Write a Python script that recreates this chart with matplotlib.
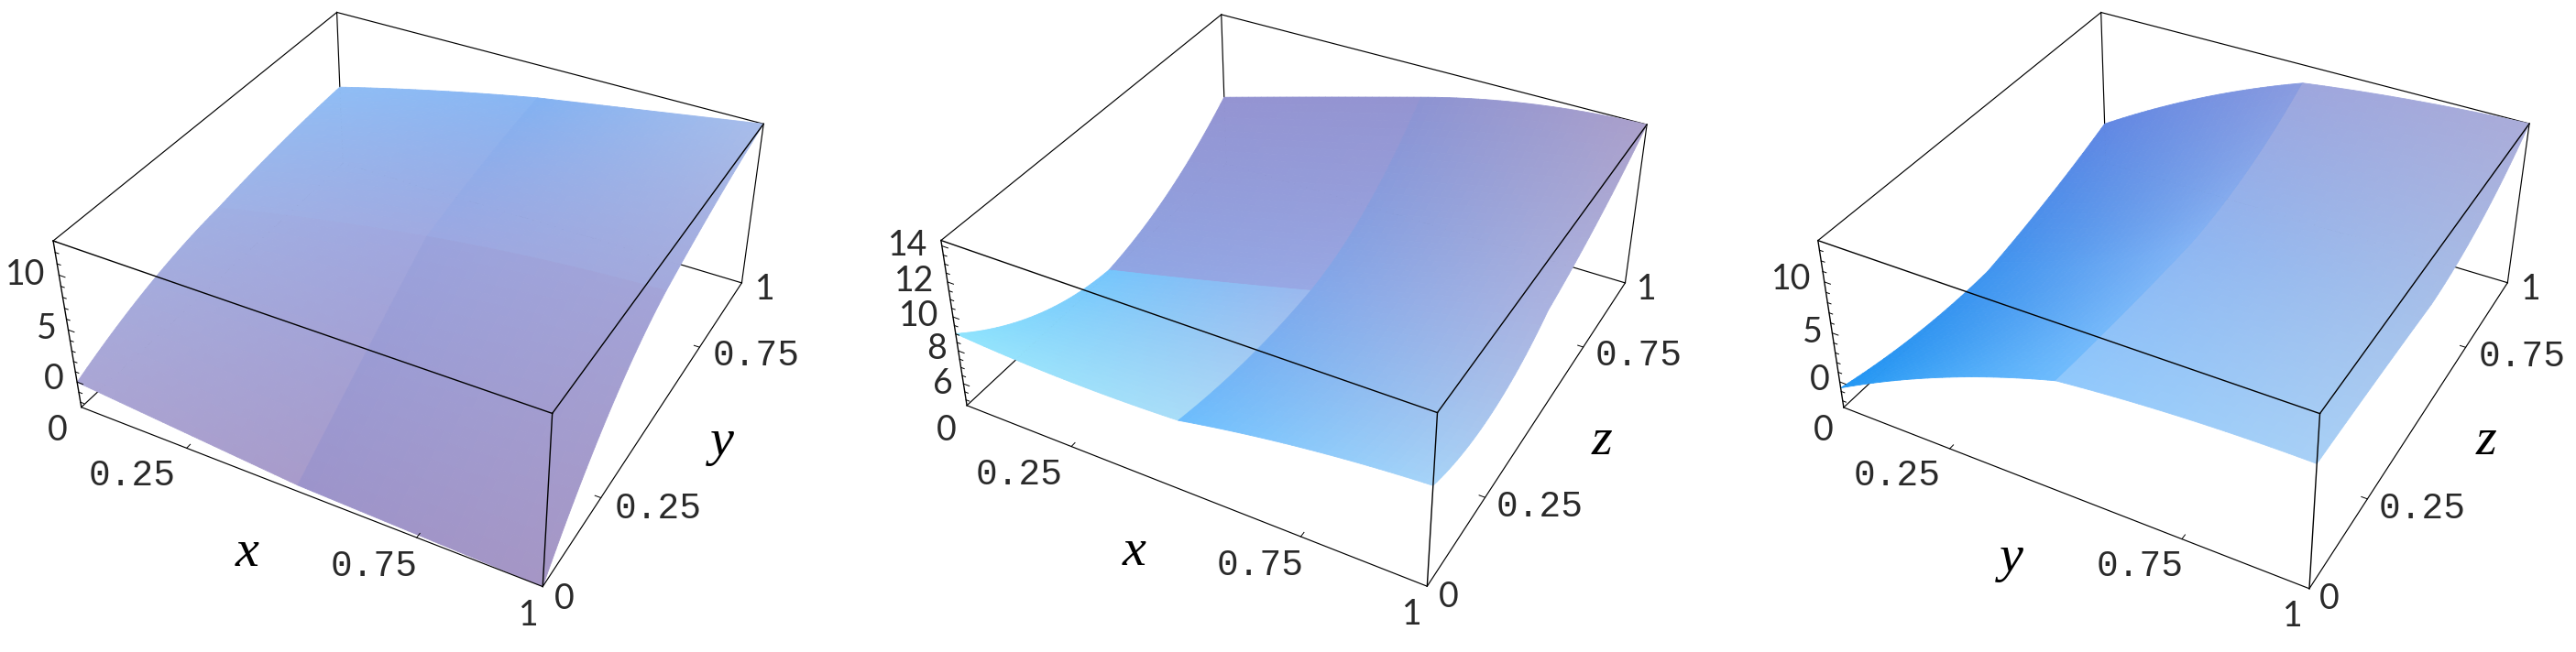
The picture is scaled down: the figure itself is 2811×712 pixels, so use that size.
import numpy as np
import matplotlib
matplotlib.use('Agg')
import matplotlib.pyplot as plt
from mpl_toolkits.mplot3d import Axes3D

W, H = 2811, 712

# grid the heights were read on
grid = [0, 0.25, 0.5, 0.75, 1]

# heights, one row per second-axis value
z1 = [[-0.02, -0.95, -1.88, -2.19, -2.50],
      [2.77, 2.93, 3.08, 3.70, 5.25],
      [4.17, 6.18, 7.81, 8.97, 9.59],
      [5.10, 7.58, 9.13, 10.52, 11.60],
      [5.56, 7.89, 9.90, 11.45, 13.00]]
z2 = [[9.02, 8.70, 8.80, 9.86, 10.44],
      [6.05, 6.87, 7.93, 8.99, 9.67],
      [4.84, 6.29, 7.83, 9.48, 11.07],
      [6.25, 7.64, 9.19, 10.73, 12.37],
      [9.09, 10.79, 12.47, 13.77, 14.30]]
z3 = [[-0.63, 4.60, 8.42, 9.25, 9.42],
      [-2.20, 2.28, 7.84, 8.59, 9.25],
      [-2.53, 1.78, 7.59, 8.26, 8.92],
      [-0.71, 3.11, 8.92, 9.75, 10.33],
      [1.78, 7.59, 12.07, 13.24, 13.90]]
zlims = [(-2.5, 13.0), (4.65, 14.3), (-2.7, 13.9)]

horizontal_ticks = [0.25, 0.75]
z_major = [[0, 5, 10], [6, 8, 10, 12, 14], [0, 5, 10]]
z_minor = [[-2, -1, 1, 2, 3, 4, 6, 7, 8, 9, 11, 12, 13],
           [5, 5.5, 6.5, 7, 7.5, 8.5, 9, 9.5, 10.5, 11, 11.5, 12.5, 13, 13.5],
           [-2, -1, 1, 2, 3, 4, 6, 7, 8, 9, 11, 12, 13]]

# colours at the patch corners: 4x4, rows run along y and the middle two
# rows/columns are the two sides of the crease at 0.5
colors1 = [['#aaa6d5', '#a89bca', '#9c94cb', '#a596c5'],
           ['#9fb0e4', '#a0a7df', '#9aa3dd', '#a3a4d8'],
           ['#9fb2e6', '#a0aae1', '#9ba8e2', '#a3a9dc'],
           ['#8fbdf5', '#88b6f3', '#82b2f2', '#a8bdea']]
colors2 = [['#8fe4fd', '#a9ddf8', '#6cbdfd', '#a7d4f8'],
           ['#75c5fc', '#9bb8ee', '#82a8ea', '#abb3e0'],
           ['#8fa5e3', '#98a8e4', '#82a8ea', '#abb3e0'],
           ['#9494d2', '#9494d1', '#8d93d2', '#aaa0cb']]
colors3 = [['#2196f3', '#6fbcfd', '#8fc8fc', '#a8d0f6'],
           ['#3f94ef', '#82b2f4', '#8fb6f1', '#a6bfe9'],
           ['#3f94ef', '#82b2f4', '#8fb6f1', '#a6bfe9'],
           ['#6187e3', '#8a9bdf', '#9ea6dd', '#aaacd9']]

# box corners on the page, in pixels
corners1 = {(0, 0, 0): (88.7, 445.0), (1, 0, 0): (592.3, 640.3), (1, 1, 0): (809.4, 308.8),
            (0, 0, 1): (58.2, 262.5), (1, 0, 1): (602.5, 451.9), (1, 1, 1): (833.3, 135.3),
            (0, 1, 1): (367.5, 13.6)}
corners2 = {(0, 0, 0): (1055.1, 442.8), (1, 0, 0): (1557.5, 640.3), (1, 1, 0): (1773.3, 308.8),
            (0, 0, 1): (1026.9, 262.5), (1, 0, 1): (1568.3, 450.5), (1, 1, 1): (1797.3, 136.2),
            (0, 1, 1): (1332.7, 15.9)}
corners3 = {(0, 0, 0): (2011.8, 445.0), (1, 0, 0): (2520.1, 642.6), (1, 1, 0): (2736.3, 308.8),
            (0, 0, 1): (1983.9, 262.5), (1, 0, 1): (2531.4, 451.9), (1, 1, 1): (2760.1, 134.9),
            (0, 1, 1): (2292.7, 13.6)}


def fit_camera(corners):
    # least squares projective camera from the visible box corners
    A, b = [], []
    for (X, Y, Z), (u, v) in corners.items():
        A.append([X, Y, Z, 1, 0, 0, 0, 0, -u * X, -u * Y, -u * Z])
        A.append([0, 0, 0, 0, X, Y, Z, 1, -v * X, -v * Y, -v * Z])
        b += [u, v]
    p = np.linalg.lstsq(np.array(A, float), np.array(b, float), rcond=None)[0]
    return np.append(p, 1).reshape(3, 4)


def use_camera(ax, corners, zlim):
    P = fit_camera(corners)
    scale = np.array([[1, 0, 0, 0], [0, 1, 0, 0],
                      [0, 0, 1 / (zlim[1] - zlim[0]), -zlim[0] / (zlim[1] - zlim[0])],
                      [0, 0, 0, 1]])

    def get_proj():
        ax.apply_aspect()
        to_view = ax.transData.inverted().get_matrix()
        flip = np.array([[1, 0, 0], [0, -1, H], [0, 0, 1]])
        Q = to_view @ flip @ P
        return np.array([Q[0], Q[1], [0, 0, 0, -1], Q[2]]) @ scale

    ax.get_proj = get_proj


def corner_weights(t):
    # quadratic on each side of the crease, so the kink at 0.5 stays
    out = np.zeros((len(t), 5))
    for i, v in enumerate(t):
        k = 0 if v <= 0.5 else 2
        s = (v - grid[k]) / 0.25
        out[i, k:k + 3] = [(s - 1) * (s - 2) / 2, -s * (s - 2), s * (s - 1) / 2]
    return out


def color_mesh(colors, n):
    rgb = np.array([[matplotlib.colors.to_rgb(c) for c in row] for row in colors])
    out = np.zeros((2 * n, 2 * n, 4))
    out[..., 3] = 1
    for j in range(2 * n):
        q = j // n
        t = (j % n + 0.5) / n
        for i in range(2 * n):
            p = i // n
            s = (i % n + 0.5) / n
            a = rgb[2 * q, 2 * p] * (1 - s) + rgb[2 * q, 2 * p + 1] * s
            b = rgb[2 * q + 1, 2 * p] * (1 - s) + rgb[2 * q + 1, 2 * p + 1] * s
            out[j, i, :3] = a * (1 - t) + b * t
    return out


def draw_panel(ax, z, colors, corners, zlim, majors, minors):
    use_camera(ax, corners, zlim)
    ax.set_axis_off()
    ax.patch.set_visible(False)
    ax.computed_zorder = False

    n = 30
    t = np.linspace(0, 1, 2 * n + 1)
    w = corner_weights(t)
    Zf = w @ np.array(z) @ w.T
    Xf, Yf = np.meshgrid(t, t)
    surf = ax.plot_surface(Xf, Yf, Zf, facecolors=color_mesh(colors, n), shade=False,
                           rcount=2 * n + 1, ccount=2 * n + 1, linewidth=0.6, zorder=2)
    surf.set_clip_on(False)

    zb, zt = zlim
    # back of the box goes under the surface, front over it
    line = dict(color='black', lw=0.85, clip_on=False)
    front = dict(color='black', lw=1.0, clip_on=False, zorder=3)
    ax.plot([0, 0], [0, 1], [zb, zb], zorder=1, **line)
    ax.plot([0, 1], [1, 1], [zb, zb], zorder=1, **line)
    ax.plot([0, 0], [1, 1], [zb, zt], zorder=1, **line)
    ax.plot([0, 1], [1, 1], [zt, zt], zorder=1, **line)
    ax.plot([0, 0], [0, 1], [zt, zt], zorder=1, **line)
    ax.plot([1, 1], [1, 1], [zb, zt], zorder=1, **line)
    ax.plot([1, 1], [0, 1], [zb, zb], zorder=3, **line)
    ax.plot([0, 1], [0, 0], [zb, zb], zorder=3, **line)
    ax.plot([0, 1], [0, 0], [zt, zt], **front)
    ax.plot([1, 1], [0, 1], [zt, zt], **front)
    ax.plot([1, 1], [0, 0], [zb, zt], **front)
    ax.plot([0, 0], [0, 0], [zb, zt], **front)

    tick = dict(color='black', lw=0.7, clip_on=False, zorder=3)
    for v in horizontal_ticks:
        ax.plot([v, v], [0, 0.012], [zb, zb], **tick)
        ax.plot([1, 0.988], [v, v], [zb, zb], **tick)
    for v in majors:
        ax.plot([0, 0.014], [0, 0], [v, v], **tick)
    for v in minors:
        ax.plot([0, 0.008], [0, 0], [v, v], **tick)


fig = plt.figure(figsize=(W / 100, H / 100), dpi=100, facecolor='white')
panels = [(z1, colors1, corners1, 0), (z2, colors2, corners2, 1), (z3, colors3, corners3, 2)]
for z, colors, corners, i in panels:
    ax = fig.add_axes([i * 940 / W, (H - 940) / 2 / H, 940 / W, 940 / H], projection='3d')
    draw_panel(ax, z, colors, corners, zlims[i], z_major[i], z_minor[i])


def put(x, y, s, **kw):
    fig.text(x / W, 1 - y / H, s, ha='center', va='center', **kw)


decimal_font = dict(family='Liberation Mono', fontsize=28.5, color='#2a2a2a')
whole_font = dict(family='Lato', fontsize=27, color='#2a2a2a')
name_font = dict(family='Liberation Serif', style='italic', fontsize=42, color='black')

# labels, positions in pixels: (x, y, text)
labels1 = [(63, 470, '0'), (144, 519, '0.25'), (408, 618, '0.75'), (577, 672, '1'),
           (616, 654, '0'), (718, 555, '0.25'), (825, 388, '0.75'), (835, 316, '1'),
           (28, 300, '10'), (51, 359, '5'), (59, 414, '0')]
labels2 = [(1033, 470, '0'), (1112, 518, '0.25'), (1375, 617, '0.75'), (1541, 671, '1'),
           (1581, 652, '0'), (1680, 553, '0.25'), (1788, 388, '0.75'), (1797, 316, '1'),
           (991, 268, '14'), (998, 307, '12'), (1003, 345, '10'), (1022, 381, '8'), (1029, 419, '6')]
labels3 = [(1990, 470, '0'), (2070, 519, '0.25'), (2335, 618, '0.75'), (2502, 673, '1'),
           (2542, 654, '0'), (2643, 555, '0.25'), (2752, 389, '0.75'), (2762, 316, '1'),
           (1955, 305, '10'), (1978, 363, '5'), (1986, 415, '0')]
names = [(270, 604, 'x'), (788, 483, 'y'), (1238, 603, 'x'), (1748, 482, 'z'),
         (2195, 610, 'y'), (2713, 482, 'z')]

for x, y, s in labels1 + labels2 + labels3:
    put(x, y, s, **(decimal_font if '.' in s else whole_font))
for x, y, s in names:
    put(x, y, s, **name_font)

fig.savefig('out.png', dpi=100)
